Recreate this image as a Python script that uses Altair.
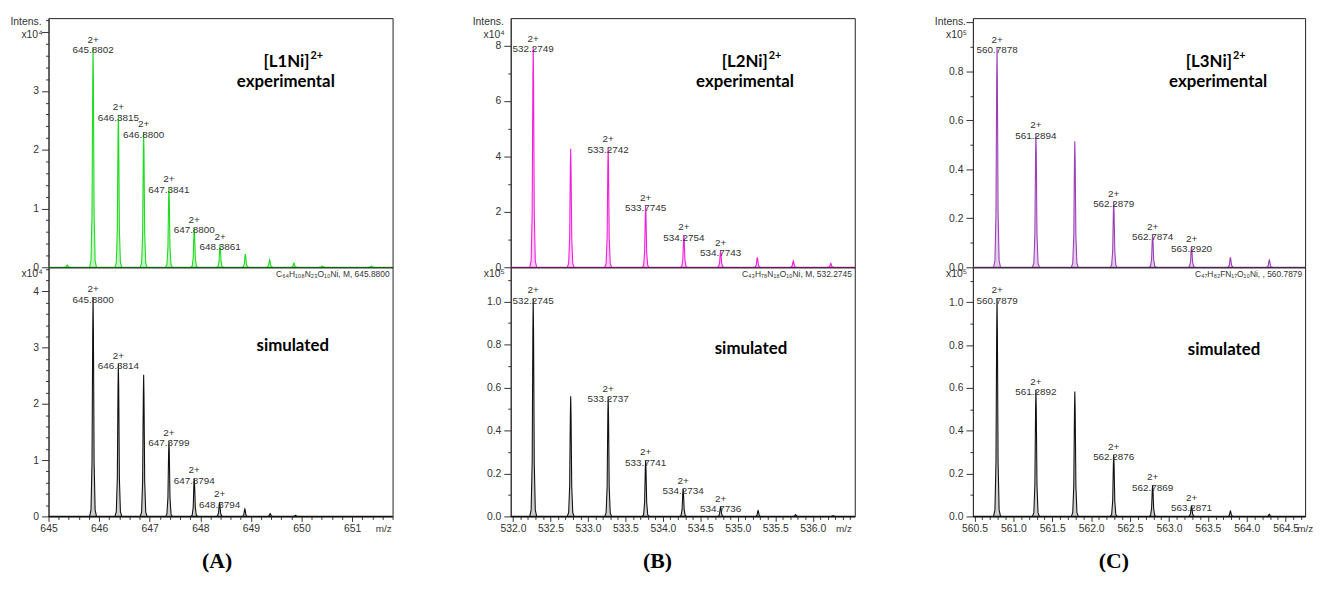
import altair as alt
import pandas as pd

# ---------------- data ----------------
# Panel A : [L1Ni]2+   (intensity in units of 1e4)
a_exp_mz = [645.37, 645.88, 646.38, 646.88, 647.38, 647.88, 648.39, 648.89, 649.37, 649.85, 650.41, 651.38]
a_exp_int = [0.04, 3.74, 2.59, 2.30, 1.36, 0.67, 0.38, 0.23, 0.13, 0.07, 0.02, 0.02]
a_exp_lab = ["", "645.8802", "646.3815", "646.8800", "647.3841", "647.8800", "648.3861", "", "", "", "", ""]
a_sim_mz = [645.88, 646.38, 646.88, 647.38, 647.88, 648.38, 648.88, 649.38, 649.88]
a_sim_int = [3.90, 2.71, 2.52, 1.34, 0.68, 0.25, 0.13, 0.05, 0.02]
a_sim_lab = ["645.8800", "646.3814", "", "647.3799", "647.8794", "648.3794", "", "", ""]

# Panel B : [L2Ni]2+   (experimental in 1e4, simulated in 1e5)
b_exp_mz = [532.27, 532.77, 533.27, 533.77, 534.28, 534.77, 535.26, 535.74, 536.24]
b_exp_int = [7.95, 4.27, 4.33, 2.22, 1.15, 0.59, 0.36, 0.23, 0.14]
b_exp_lab = ["532.2749", "", "533.2742", "533.7745", "534.2754", "534.7743", "", "", ""]
b_sim_mz = [532.27, 532.77, 533.27, 533.77, 534.27, 534.77, 535.27, 535.77, 536.27]
b_sim_int = [1.015, 0.56, 0.556, 0.262, 0.13, 0.046, 0.027, 0.008, 0.003]
b_sim_lab = ["532.2745", "", "533.2737", "533.7741", "534.2734", "534.7736", "", "", ""]

# Panel C : [L3Ni]2+   (intensity in units of 1e5)
c_exp_mz = [560.79, 561.29, 561.79, 562.29, 562.79, 563.29, 563.79, 564.29, 564.79]
c_exp_int = [0.897, 0.547, 0.515, 0.269, 0.132, 0.085, 0.04, 0.03, 0.012]
c_exp_lab = ["560.7878", "561.2894", "", "562.2879", "562.7874", "563.2920", "", "", ""]
c_sim_mz = [560.79, 561.29, 561.79, 562.29, 562.79, 563.29, 563.79, 564.29, 564.79]
c_sim_int = [1.018, 0.59, 0.583, 0.287, 0.146, 0.05, 0.025, 0.01, 0.003]
c_sim_lab = ["560.7879", "561.2892", "", "562.2876", "562.7869", "563.2871", "", "", ""]

# axis tick values / labels
a_x_major = [645, 646, 647, 648, 649, 650, 651]
a_x_ticks = [round(645 + 0.2 * k, 1) for k in range(35)]
b_x_major = [532.0, 532.5, 533.0, 533.5, 534.0, 534.5, 535.0, 535.5, 536.0]
b_x_ticks = [round(532.0 + 0.1 * k, 1) for k in range(46)]
c_x_major = [560.5, 561.0, 561.5, 562.0, 562.5, 563.0, 563.5, 564.0, 564.5]
c_x_ticks = [round(560.5 + 0.1 * k, 1) for k in range(43)]

a_exp_y_major = [0, 1, 2, 3, 4]
a_exp_y_lab = [0, 1, 2, 3]
a_exp_y_ticks = [round(0.2 * k, 1) for k in range(22)]
a_sim_y_major = [0, 1, 2, 3, 4]
a_sim_y_lab = [0, 1, 2, 3, 4]
a_sim_y_ticks = [round(0.2 * k, 1) for k in range(23)]
b_exp_y_major = [0, 2, 4, 6, 8]
b_exp_y_lab = [0, 2, 4, 6, 8]
b_exp_y_ticks = list(range(9))
b_sim_y_major = [0.0, 0.2, 0.4, 0.6, 0.8, 1.0]
b_sim_y_lab = [0.0, 0.2, 0.4, 0.6, 0.8, 1.0]
b_sim_y_ticks = [round(0.1 * k, 1) for k in range(12)]
c_exp_y_major = [0.0, 0.2, 0.4, 0.6, 0.8, 1.0]
c_exp_y_lab = [0.0, 0.2, 0.4, 0.6, 0.8]
c_exp_y_ticks = [round(0.1 * k, 1) for k in range(11)]
c_sim_y_major = [0.0, 0.2, 0.4, 0.6, 0.8, 1.0]
c_sim_y_lab = [0.0, 0.2, 0.4, 0.6, 0.8, 1.0]
c_sim_y_ticks = [round(0.1 * k, 1) for k in range(12)]

# ---------------- drawing helpers ----------------
SANS = "Liberation Sans"
TXT = "#333333"
H = 252

# peak profile used to draw each centroid as a narrow peak
PROF_DX = [-1.0, -0.6, -0.3, -0.1, 0.0, 0.1, 0.3, 0.6, 1.0]
PROF_H = [0.0, 0.03, 0.25, 0.85, 1.0, 0.85, 0.25, 0.03, 0.0]


def profile(mz, inten, hw):
    rows = []
    for i, (m, h) in enumerate(zip(mz, inten)):
        for dx, f in zip(PROF_DX, PROF_H):
            rows.append({"mz": m + dx * hw, "I": h * f, "pk": i})
    return pd.DataFrame(rows)


def member(v):
    return "(" + " || ".join(f"abs(datum.value - {float(x)!r}) < 1e-6" for x in v) + ")"


def y_axis(ticks, major, labeled, fmt):
    return alt.Axis(
        values=ticks, title=None, grid=False, format=fmt,
        labelExpr=f"{member(labeled)} ? datum.label : ''",
        tickSize={"condition": {"test": member(major), "value": 7}, "value": 3},
        tickColor="#333", domainColor="#333", labelColor=TXT, labelFont=SANS,
        labelFontSize=10.5, labelPadding=3, labelFlush=False, labelOverlap=False,
    )


def x_axis(ticks, major, fmt, title, tx):
    return alt.Axis(
        values=ticks, format=fmt,
        labelExpr=f"{member(major)} ? datum.label : ''",
        tickSize={"condition": {"test": member(major), "value": 5}, "value": 3},
        tickColor="#333", domainColor="#333", labelColor=TXT, labelFont=SANS,
        labelFontSize=10.5, labelPadding=2, labelFlush=False, labelOverlap=False, grid=False,
        title=title, titleFont="Liberation Serif", titleFontWeight="bold", titleFontSize=22,
        titleColor="black", titleX=tx, titleY=45, titleBaseline="middle", titleAlign="center",
    )


def note(text, x, y, size, weight="normal", align="center", font=SANS, color=TXT):
    return alt.Chart(pd.DataFrame({"t": [text]})).mark_text(
        fontSize=size, fontWeight=weight, align=align, baseline="middle", font=font, color=color
    ).encode(text="t:N", x=alt.value(x), y=alt.value(y))


def spectrum(mz, inten, labs, W, xdom, ydom, yax, xax, color, fill, hw, notes):
    xs = alt.Scale(domain=xdom, nice=False, zero=False)
    ys = alt.Scale(domain=ydom, nice=False, zero=False)
    prof = profile(mz, inten, hw)
    X = alt.X("mz:Q", scale=xs, axis=xax, title=xax.title if xax is not None else None)
    Y = alt.Y("I:Q", scale=ys, axis=yax, title=None)
    area = alt.Chart(prof).mark_area(color=fill, clip=True).encode(x=X, y=Y, detail="pk:N")
    line = alt.Chart(prof).mark_line(color=color, strokeWidth=1.1, clip=True).encode(x=X, y=Y, detail="pk:N")
    base = alt.Chart(pd.DataFrame({"I": [0.0]})).mark_rule(color=color, strokeWidth=1.3).encode(y=Y)
    ldf = pd.DataFrame({"mz": mz, "I": inten, "lab": labs})
    ldf = ldf[ldf["lab"] != ""].copy()
    ldf["txt"] = "2+\n" + ldf["lab"]
    text = alt.Chart(ldf).mark_text(
        baseline="bottom", dy=-3, fontSize=10, font=SANS, color=TXT, lineBreak="\n", lineHeight=10.5
    ).encode(x=X, y=Y, text="txt:N")
    return alt.layer(area, line, base, text, *notes).properties(width=W, height=H)


def column(tag, W, xdom, exp, sim, xt, xm, xfmt, tx, color, fill, hw, exp_notes, sim_notes):
    top = spectrum(exp[0], exp[1], exp[2], W, xdom, exp[3], exp[4], None, color, fill, hw, exp_notes)
    bot = spectrum(sim[0], sim[1], sim[2], W, xdom, sim[3], sim[4],
                   x_axis(xt, xm, xfmt, tag, tx), "#111111", "#cfcfcf", hw, sim_notes)
    return alt.vconcat(top, bot, spacing=0, bounds="flush")


def head(W, name, nx, ex, exp10):
    return [
        note("Intens.", -7, 4, 10.5, align="right"),
        note(exp10, -6, 17, 10.5, align="right"),
        note(name, nx, 44, 17, "bold", "right", "Lato", "black"),
        note("2+", nx + 1, 38, 11, "bold", "left", "Lato", "black"),
        note("experimental", ex, 65, 17, "bold", "center", "Lato", "black"),
    ]


def foot(W, formula, sx, sy, exp10, mz_x):
    return [
        note(exp10, -6, 7, 10.5, align="right"),
        note(formula, W - 3, 7, 8.5, align="right"),
        note("simulated", sx, sy, 17, "bold", "center", "Lato", "black"),
        note("m/z", mz_x, H + 12.5, 10, align="left"),
    ]


WA, WB, WC = 348, 348, 336

colA = column(
    "(A)", WA, [645.0, 651.8],
    (a_exp_mz, a_exp_int, a_exp_lab, [0, 4.24], y_axis(a_exp_y_ticks, a_exp_y_major, a_exp_y_lab, ".0f")),
    (a_sim_mz, a_sim_int, a_sim_lab, [0, 4.43], y_axis(a_sim_y_ticks, a_sim_y_major, a_sim_y_lab, ".0f")),
    a_x_ticks, a_x_major, ".0f", 170, "#1edc1e", "#c8f2c8", 0.068,
    head(WA, "[L1Ni]", 264, 240, "x10⁴"),
    foot(WA, "C₆₄H₁₀₈N₂₃O₁₀Ni, M, 645.8800", 247, 80, "x10⁴", WA - 17),
)
colB = column(
    "(B)", WB, [531.97, 536.56],
    (b_exp_mz, b_exp_int, b_exp_lab, [0, 8.98], y_axis(b_exp_y_ticks, b_exp_y_major, b_exp_y_lab, ".0f")),
    (b_sim_mz, b_sim_int, b_sim_lab, [0, 1.16], y_axis(b_sim_y_ticks, b_sim_y_major, b_sim_y_lab, ".1f")),
    b_x_ticks, b_x_major, ".1f", 148, "#f020da", "#fccdf3", 0.046,
    head(WB, "[L2Ni]", 260, 237, "x10⁴"),
    foot(WB, "C₄₃H₇₈N₁₈O₁₀Ni, M, 532.2745", 243, 83, "x10⁵", WB - 19),
)
colC = column(
    "(C)", WC, [560.48, 564.75],
    (c_exp_mz, c_exp_int, c_exp_lab, [0, 1.018], y_axis(c_exp_y_ticks, c_exp_y_major, c_exp_y_lab, ".1f")),
    (c_sim_mz, c_sim_int, c_sim_lab, [0, 1.163], y_axis(c_sim_y_ticks, c_sim_y_major, c_sim_y_lab, ".1f")),
    c_x_ticks, c_x_major, ".1f", 142, "#9b3fb8", "#e3cdea", 0.045,
    head(WC, "[L3Ni]", 262, 248, "x10⁵"),
    foot(WC, "C₄₇H₈₂FN₁₇O₁₀Ni, , 560.7879", 254, 84, "x10⁵", WC - 8),
)

chart = alt.hconcat(colA, colB, colC, spacing=77.5).properties(
    padding={"left": 1, "top": 3, "right": 0, "bottom": 0}
).configure_view(stroke="#222222", strokeWidth=1)

chart.save("out.html", embed_options={"renderer": "svg", "actions": False})
